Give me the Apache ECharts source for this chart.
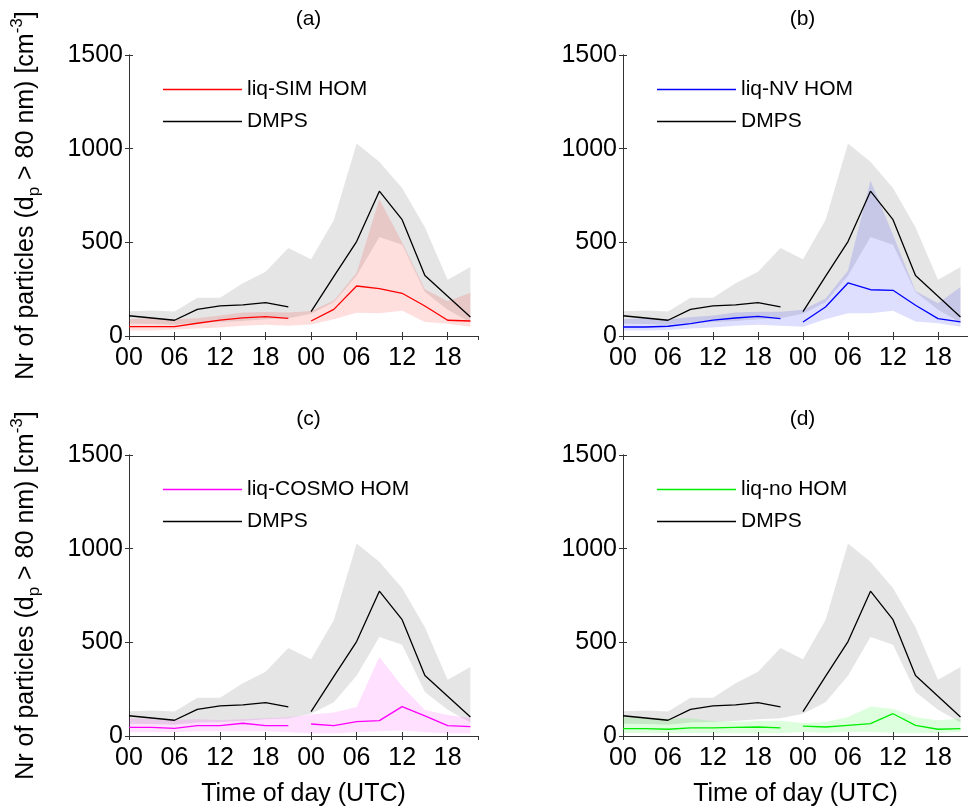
<!DOCTYPE html>
<html>
<head>
<meta charset="utf-8">
<script src="https://cdn.jsdelivr.net/npm/echarts@6/dist/echarts.min.js"></script>
<style>
  html, body { margin: 0; padding: 0; background: #fff; }
  #chart { width: 968px; height: 809px; }
</style>
</head>
<body>
<div id="chart"></div>
<script>
// hours since 00 UTC of day one, every 3 h over two days
const hours = [0, 3, 6, 9, 12, 15, 18, 21, 24, 27, 30, 33, 36, 39, 42, 45];

// DMPS observations (same in all panels): mean and spread band
const dmpsMean  = [108, 96, 84, 142, 161, 166, 178, 155, 130, 318, 504, 773, 621, 323, 212, 101];
const dmpsUpper = [132, 136, 131, 204, 204, 282, 343, 470, 410, 619, 1028, 930, 790, 580, 300, 368];
const dmpsLower = [66, 64, 60, 72, 75, 80, 90, 95, 119, 180, 322, 528, 487, 235, 140, 72];

// (a) liq-SIM HOM
const simMean  = [50, 50, 50, 68, 85, 97, 103, 94, 80, 142, 267, 253, 228, 160, 84, 80];
const simUpper = [90, 95, 90, 95, 110, 125, 128, 125, 133, 190, 338, 730, 500, 250, 185, 231];
const simLower = [30, 30, 35, 40, 45, 55, 60, 55, 62, 89, 124, 121, 135, 75, 65, 50];

// (b) liq-NV HOM
const nvMean  = [48, 48, 52, 66, 85, 96, 105, 93, 75, 155, 283, 247, 244, 164, 93, 75];
const nvUpper = [90, 95, 90, 100, 110, 125, 130, 130, 140, 200, 350, 830, 540, 240, 175, 262];
const nvLower = [30, 30, 32, 40, 45, 55, 60, 55, 50, 90, 122, 122, 135, 78, 68, 50];

// (c) liq-COSMO HOM
const cosmoMean  = [46, 46, 41, 55, 55, 68, 55, 55, 64, 55, 77, 82, 157, 107, 55, 50];
const cosmoUpper = [95, 90, 85, 90, 85, 90, 95, 100, 115, 125, 155, 422, 265, 139, 112, 96];
const cosmoLower = [20, 20, 20, 25, 25, 25, 25, 20, 15, 15, 20, 25, 30, 20, 15, 15];

// (d) liq-no HOM
const noMean  = [39, 39, 36, 43, 43, 46, 48, 43, 53, 48, 57, 66, 119, 57, 36, 39];
const noUpper = [101, 98, 92, 95, 80, 75, 80, 82, 69, 75, 101, 158, 146, 101, 84, 93];
const noLower = [15, 15, 15, 15, 15, 15, 15, 15, 21, 16, 21, 21, 16, 16, 16, 21];

const yTicks = [0, 500, 1000, 1500];

const panels = [
  {title: '(a)', name: 'liq-SIM HOM', color: '#ff0000', band: 'rgba(255,0,0,0.13)',
   mean: simMean, upper: simUpper, lower: simLower, left: 129, top: 55, yName: true, xName: false},
  {title: '(b)', name: 'liq-NV HOM', color: '#0000ff', band: 'rgba(0,0,255,0.13)',
   mean: nvMean, upper: nvUpper, lower: nvLower, left: 623, top: 55, yName: false, xName: false},
  {title: '(c)', name: 'liq-COSMO HOM', color: '#ff00ff', band: 'rgba(255,0,255,0.12)',
   mean: cosmoMean, upper: cosmoUpper, lower: cosmoLower, left: 129, top: 455, yName: true, xName: true},
  {title: '(d)', name: 'liq-no HOM', color: '#00ee00', band: 'rgba(0,255,0,0.13)',
   mean: noMean, upper: noUpper, lower: noLower, left: 623, top: 455, yName: false, xName: true},
];

const FONT = 'Liberation Sans, Arial, sans-serif';
const axisColor = '#333';
const grayBand = 'rgba(0,0,0,0.1)';

const pairs = (vals, from, to) => hours.slice(from, to).map((h, k) => [h, vals[from + k]]);
// band rows are [value, hour] so the value column is the one that gets stacked
const bandRows = vals => hours.map((h, k) => [vals[k], h]);
const diff = (up, lo) => up.map((v, k) => v - lo[k]);

const grid = [], xAxis = [], yAxis = [], series = [], legend = [], title = [];

panels.forEach((p, i) => {
  grid.push({left: p.left, top: p.top, width: 349, height: 281, containLabel: false});

  // bottom axis with labels
  xAxis.push({
    gridIndex: i, type: 'value', min: 0, max: 46, interval: 6,
    axisLine: {lineStyle: {color: axisColor, width: 1}},
    axisTick: {inside: true, length: 4, lineStyle: {color: axisColor}},
    axisLabel: {
      fontSize: 25, color: '#000', margin: 10, fontFamily: FONT, showMaxLabel: false,
      formatter: v => (v % 6 === 0 ? String(v % 24).padStart(2, '0') : ''),
    },
    splitLine: {show: false},
    name: p.xName ? 'Time of day (UTC)' : '',
    nameLocation: 'middle', nameGap: 46,
    nameTextStyle: {fontSize: 25, color: '#000', fontFamily: FONT},
  });
  // top frame line
  xAxis.push({
    gridIndex: i, type: 'value', min: 0, max: 46, interval: 6, position: 'top',
    axisLine: {lineStyle: {color: axisColor, width: 1}},
    axisTick: {inside: true, length: 4, lineStyle: {color: axisColor}},
    axisLabel: {show: false}, splitLine: {show: false},
  });

  yAxis.push({
    gridIndex: i, type: 'value', min: yTicks[0], max: yTicks[yTicks.length - 1], interval: 500,
    axisLine: {show: true, lineStyle: {color: axisColor, width: 1}},
    axisTick: {show: true, inside: true, length: 4, lineStyle: {color: axisColor}},
    axisLabel: {fontSize: 25, color: '#000', margin: 6, fontFamily: FONT, formatter: v => String(v)},
    splitLine: {show: false},
    name: p.yName ? '{n|Nr of particles (d}{sub|p}{n| > 80 nm) [cm}{sup|-3}{n|]}' : '',
    nameLocation: 'middle', nameRotate: 90, nameGap: 86,
    nameTextStyle: {
      fontFamily: FONT, color: '#000',
      rich: {
        n: {fontSize: 25, lineHeight: 34, fontFamily: FONT, color: '#000'},
        sub: {fontSize: 17, lineHeight: 10, verticalAlign: 'bottom', fontFamily: FONT, color: '#000'},
        sup: {fontSize: 17, lineHeight: 14, verticalAlign: 'top', fontFamily: FONT, color: '#000'},
      },
    },
  });
  // right frame line
  yAxis.push({
    gridIndex: i, type: 'value', min: 0, max: 1500, interval: 500, position: 'right',
    axisLine: {show: true, lineStyle: {color: axisColor, width: 1}},
    axisTick: {show: true, inside: true, length: 4, lineStyle: {color: axisColor}},
    axisLabel: {show: false}, splitLine: {show: false},
  });

  const xi = 2 * i, yi = 2 * i;
  const bandBase = {type: 'line', xAxisIndex: xi, yAxisIndex: yi, symbol: 'none', silent: true,
    encode: {x: 1, y: 0}, lineStyle: {opacity: 0}};

  // DMPS spread (gray)
  series.push(Object.assign({}, bandBase, {name: 'dmpsLo' + i, stack: 'dmps' + i, data: bandRows(dmpsLower)}));
  series.push(Object.assign({}, bandBase, {name: 'dmpsBand' + i, stack: 'dmps' + i,
    data: bandRows(diff(dmpsUpper, dmpsLower)), areaStyle: {color: grayBand, opacity: 1}}));
  // model spread (coloured)
  series.push(Object.assign({}, bandBase, {name: 'modLo' + i, stack: 'mod' + i, data: bandRows(p.lower)}));
  series.push(Object.assign({}, bandBase, {name: 'modBand' + i, stack: 'mod' + i,
    data: bandRows(diff(p.upper, p.lower)), areaStyle: {color: p.band, opacity: 1}}));

  // lines, broken between the two days
  [[0, 8], [8, 16]].forEach(([a, b]) => {
    series.push({type: 'line', name: 'DMPS', xAxisIndex: xi, yAxisIndex: yi, symbol: 'none',
      data: pairs(dmpsMean, a, b), color: '#000', lineStyle: {color: '#000', width: 1.3}, z: 3});
    series.push({type: 'line', name: p.name, xAxisIndex: xi, yAxisIndex: yi, symbol: 'none',
      data: pairs(p.mean, a, b), color: p.color, lineStyle: {color: p.color, width: 1.3}, z: 4});
  });

  legend.push({
    data: [p.name, 'DMPS'], orient: 'vertical', left: p.left + 29, top: p.top + 19,
    itemWidth: 79, itemHeight: 1.5, itemGap: 11, icon: 'rect', selectedMode: false,
    itemStyle: {borderWidth: 0},
    textStyle: {fontSize: 21, color: '#000', fontFamily: FONT},
  });

  title.push({
    text: p.title, left: p.left + 174.5, top: p.top - 51, textAlign: 'center',
    textStyle: {fontSize: 21, fontWeight: 'normal', color: '#000', fontFamily: FONT},
  });
});

const myChart = echarts.init(document.getElementById('chart'), null, {renderer: 'canvas'});
myChart.setOption({
  animation: false,
  backgroundColor: '#fff',
  textStyle: {fontFamily: FONT},
  title, legend, grid, xAxis, yAxis, series,
});
</script>
</body>
</html>
